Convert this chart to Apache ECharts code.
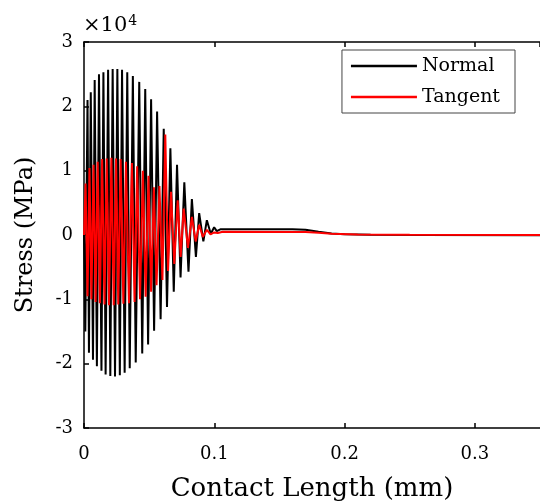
<!DOCTYPE html>
<html>
<head>
<meta charset="utf-8">
<script src="https://cdn.jsdelivr.net/npm/echarts@6/dist/echarts.min.js"></script>
<style>
  html, body { margin: 0; padding: 0; background: #fff; }
  #chart { width: 540px; height: 503px; }
</style>
</head>
<body>
<div id="chart"></div>
<script>
// contact length (mm) and stress (MPa)
const normalX = [0, 0.0010, 0.0027, 0.0038, 0.0052, 0.0069, 0.0082, 0.0099, 0.0115, 0.0134,
  0.0149, 0.0166, 0.0185, 0.0202, 0.0220, 0.0238, 0.0256, 0.0275, 0.0292, 0.0312,
  0.0332, 0.0351, 0.0375, 0.0397, 0.0424, 0.0447, 0.0470, 0.0492, 0.0515, 0.0538,
  0.0561, 0.0588, 0.0612, 0.0637, 0.0663, 0.0689, 0.0714, 0.0741, 0.0770, 0.0802,
  0.0828, 0.0859, 0.0884, 0.0916, 0.0943, 0.0973, 0.0999, 0.1019, 0.1050, 0.1200,
  0.1400, 0.1600, 0.1700, 0.1800, 0.1900, 0.2000, 0.2200, 0.2600, 0.3500];
const normalY = [0, -15000, 21000, -18300, 22200, -19400, 24100, -20400, 25000, -21100,
  25300, -21700, 25700, -21900, 25800, -22000, 25800, -21800, 25700, -21400,
  25300, -20700, 24700, -19800, 23800, -18400, 22700, -17000, 21100, -14900,
  19200, -13100, 16500, -11200, 13500, -8800, 10900, -6600, 8200, -5700,
  5600, -3400, 3400, -1000, 2300, 200, 1200, 600, 900, 900,
  900, 880, 800, 500, 250, 120, 50, 0, -50];

const tangentX = [0, 0.0012, 0.0027, 0.0042, 0.0057, 0.0073, 0.0089, 0.0105, 0.0122, 0.0139,
  0.0157, 0.0174, 0.0192, 0.0210, 0.0228, 0.0246, 0.0263, 0.0281, 0.0302, 0.0322,
  0.0345, 0.0368, 0.0388, 0.0408, 0.0430, 0.0452, 0.0473, 0.0495, 0.0515, 0.0536,
  0.0557, 0.0579, 0.0602, 0.0624, 0.0645, 0.0668, 0.0693, 0.0719, 0.0742, 0.0765,
  0.0798, 0.0828, 0.0857, 0.0884, 0.0912, 0.0943, 0.0971, 0.0999, 0.1027, 0.1065,
  0.1700, 0.1800, 0.1900, 0.2100, 0.2500, 0.3500];
const tangentY = [0, 8000, -9500, 10400, -10000, 10900, -10400, 11400, -10600, 11800,
  -10800, 11900, -10900, 12000, -10900, 11900, -10800, 11800, -10700, 11400,
  -10600, 11200, -10400, 10700, -10000, 10000, -9600, 9200, -8800, 7400,
  -7800, 7600, -7000, 15600, -5600, 6700, -4500, 5400, -3400, 4100,
  -2000, 2800, -1000, 1600, -300, 800, 100, 400, 300, 500,
  450, 350, 200, 80, 20, 0];

const xTicks = [0, 0.1, 0.2, 0.3];
const seriesNames = ['Normal', 'Tangent'];

const FONT = 'DejaVu Serif';

const zip = (xs, ys) => xs.map((x, i) => [x, ys[i]]);

const chart = echarts.init(document.getElementById('chart'));

const axisLine = { show: true, onZero: false, lineStyle: { color: '#000', width: 1.5 } };
const axisTick = { show: true, inside: true, length: 5, lineStyle: { color: '#000', width: 1.5 } };

const option = {
  animation: false,
  backgroundColor: '#fff',
  title: {
    text: '×10{s|4}',
    left: 78,
    top: 9,
    textStyle: {
      fontFamily: FONT, fontSize: 21, fontWeight: 'normal', color: '#000',
      rich: { s: { fontFamily: FONT, fontSize: 14, verticalAlign: 'top', padding: [0, 0, 10, 1] } }
    }
  },
  legend: {
    data: seriesNames,
    orient: 'vertical',
    right: 25,
    top: 50,
    backgroundColor: '#fff',
    borderColor: '#444',
    borderWidth: 1,
    borderRadius: 0,
    padding: [4, 15, 4, 9],
    icon: 'rect',
    itemWidth: 66,
    itemHeight: 2.5,
    itemGap: 7,
    textStyle: { fontFamily: FONT, fontSize: 19, lineHeight: 24, color: '#000' }
  },
  grid: { left: 84, right: 0, top: 42, bottom: 75, outerBoundsMode: 'none', containLabel: false },
  xAxis: [{
    type: 'value',
    position: 'bottom',
    min: 0,
    max: 0.35,
    interval: 0.1,
    axisLine: axisLine,
    axisTick: axisTick,
    splitLine: { show: false },
    axisLabel: {
      margin: 17, fontFamily: FONT, fontSize: 18, color: '#000', showMaxLabel: false,
      formatter: v => xTicks.some(t => Math.abs(t - v) < 1e-9) ? (v === 0 ? '0' : v.toFixed(1)) : ''
    },
    name: 'Contact Length (mm)',
    nameLocation: 'middle',
    nameGap: 48,
    nameTextStyle: { fontFamily: FONT, fontSize: 26, color: '#000' }
  }, {
    type: 'value',
    position: 'top',
    min: 0,
    max: 0.35,
    interval: 0.1,
    axisLine: axisLine,
    axisTick: axisTick,
    splitLine: { show: false },
    axisLabel: { show: false }
  }],
  yAxis: [{
    type: 'value',
    min: -30000,
    max: 30000,
    interval: 10000,
    axisLine: axisLine,
    axisTick: axisTick,
    splitLine: { show: false },
    axisLabel: {
      margin: 11, fontFamily: FONT, fontSize: 18, color: '#000',
      formatter: v => String(Math.round(v / 10000))
    },
    name: 'Stress (MPa)',
    nameLocation: 'middle',
    nameGap: 46,
    nameTextStyle: { fontFamily: FONT, fontSize: 24, color: '#000' }
  }],
  series: [{
    name: seriesNames[0],
    type: 'line',
    data: zip(normalX, normalY),
    symbol: 'none',
    lineStyle: { color: '#000', width: 2 },
    itemStyle: { color: '#000' }
  }, {
    name: seriesNames[1],
    type: 'line',
    data: zip(tangentX, tangentY),
    symbol: 'none',
    lineStyle: { color: '#ff0000', width: 2 },
    itemStyle: { color: '#ff0000' }
  }]
};

chart.setOption(option);
</script>
</body>
</html>
